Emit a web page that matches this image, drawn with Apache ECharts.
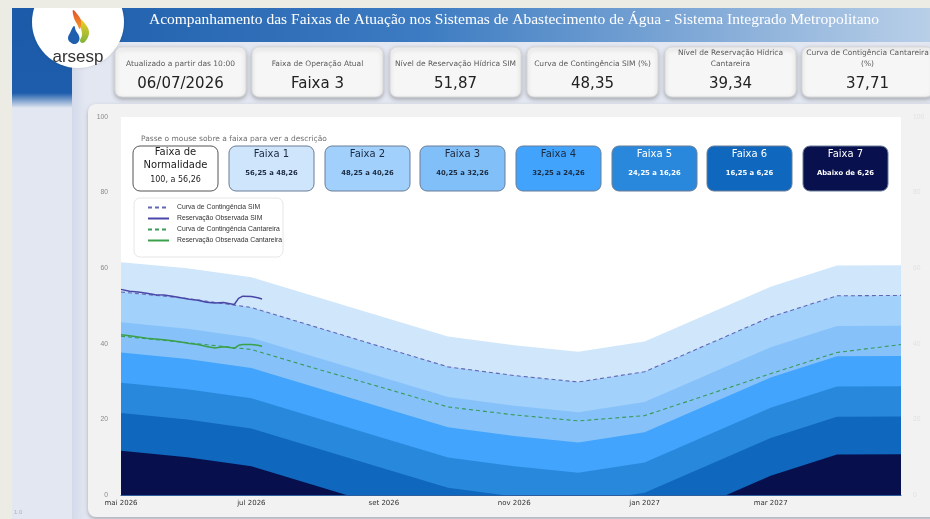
<!DOCTYPE html>
<html><head><meta charset="utf-8">
<script src="https://cdn.jsdelivr.net/npm/echarts@6/dist/echarts.min.js"></script>
<style>html,body{margin:0;padding:0;background:#ecece5;overflow:hidden}#chart{width:930px;height:519px}</style>
</head><body><div id="chart"></div>
<script>
// ---- data ----
const months = ['2026-05-01','2026-06-01','2026-07-01','2026-08-01','2026-09-01','2026-10-01','2026-11-01','2026-12-01','2027-01-01','2027-02-01','2027-03-01','2027-04-01','2027-05-01'];
const curvaSIM        = [53.7, 52.0, 49.6, 44.3, 39.0, 33.9, 31.6, 29.9, 32.6, 40.2, 47.1, 52.7, 52.8];
const curvaCantareira = [42.0, 40.3, 38.5, 33.3, 28.3, 23.3, 21.2, 19.6, 21.0, 26.8, 32.1, 37.7, 39.8];
const faixa1Topo = [61.6, 60.0, 57.6, 52.3, 47.0, 41.9, 39.6, 37.9, 40.6, 48.2, 55.1, 60.7, 60.8];
const faixa2Topo = [53.7, 52.0, 49.6, 44.3, 39.0, 33.9, 31.6, 29.9, 32.6, 40.2, 47.1, 52.7, 52.8];
const faixa3Topo = [45.7, 44.0, 41.6, 36.3, 31.0, 25.9, 23.6, 21.9, 24.6, 32.2, 39.1, 44.7, 44.8];
const faixa4Topo = [37.7, 36.0, 33.6, 28.3, 23.0, 17.9, 15.6, 13.9, 16.6, 24.2, 31.1, 36.7, 36.8];
const faixa5Topo = [29.7, 28.0, 25.6, 20.3, 15.0,  9.9,  7.6,  5.9,  8.6, 16.2, 23.1, 28.7, 28.8];
const faixa6Topo = [21.7, 20.0, 17.6, 12.3,  7.0,  1.9, -0.4, -2.1,  0.6,  8.2, 15.1, 20.7, 20.8];
const faixa7Topo = [11.7, 10.0,  7.6,  2.3, -3.0, -8.1,-10.4,-12.1, -9.4, -1.8,  5.1, 10.7, 10.8];

const obsDates = ['2026-05-01','2026-05-05','2026-05-09','2026-05-13','2026-05-17','2026-05-21','2026-05-25','2026-05-29','2026-06-02','2026-06-06','2026-06-10','2026-06-14','2026-06-18','2026-06-21','2026-06-23','2026-06-25','2026-06-27','2026-07-01','2026-07-04','2026-07-06'];
const obsSIM        = [54.4, 53.9, 53.7, 53.4, 53.0, 52.9, 52.6, 52.2, 51.8, 51.5, 51.0, 50.8, 50.9, 50.6, 50.4, 52.0, 52.6, 52.5, 52.2, 51.87];
const obsCantareira = [42.4, 42.1, 41.8, 41.5, 41.3, 41.1, 40.8, 40.5, 40.1, 39.8, 39.3, 38.9, 39.2, 39.0, 38.8, 39.6, 39.8, 39.8, 39.6, 39.34];

const xTickDates = ['2026-05-01','2026-07-01','2026-09-01','2026-11-01','2027-01-01','2027-03-01'];
const monthNames = ['jan','fev','mar','abr','mai','jun','jul','ago','set','out','nov','dez'];

const faixaTitles = ['Faixa de\nNormalidade','Faixa 1','Faixa 2','Faixa 3','Faixa 4','Faixa 5','Faixa 6','Faixa 7'];
const faixaRanges = ['100, a 56,26','56,25 a 48,26','48,25 a 40,26','40,25 a 32,26','32,25 a 24,26','24,25 a 16,26','16,25 a 6,26','Abaixo de 6,26'];

const cardLabels = ['Atualizado a partir das 10:00','Faixa de Operação Atual','Nível de Reservação Hídrica SIM','Curva de Contingência SIM (%)','Nível de Reservação Hídrica\nCantareira','Curva de Contigência Cantareira\n(%)'];
const cardValues = ['06/07/2026','Faixa 3','51,87','48,35','39,34','37,71'];

const titleText = 'Acompanhamento das Faixas de Atuação nos Sistemas de Abastecimento de Água - Sistema Integrado Metropolitano';

// ---- styles ----
const bandTops = [faixa1Topo, faixa2Topo, faixa3Topo, faixa4Topo, faixa5Topo, faixa6Topo, faixa7Topo];
const bandColors = ['#d0e6fb','#a2d1fb','#86c2f9','#42a4fc','#2888dc','#0f68be','#07104c'];
const boxFills = ['#ffffff','#cfe5fb','#a0d0fb','#80bff8','#41a3fb','#2a88dc','#0f67be','#08104e'];
const boxText = ['#1c1c1c','#1c2a40','#1c2a40','#1c2a40','#1c2a40','#ffffff','#ffffff','#ffffff'];

const chart = echarts.init(document.getElementById('chart'), null, {renderer:'canvas'});
const G = echarts.graphic;
const DAY = 24 * 3600 * 1000;

function txt(x, y, text, font, fill, align, extra) {
  const st = {text:text, font:font, fill:fill, align:align||'center', verticalAlign:'middle'};
  if (extra && extra.lh) st.lineHeight = extra.lh;
  return {type:'text', x:x, y:y, silent:true, z:(extra&&extra.z)||1, style:st};
}

const graphics = [];
// content background
graphics.push({type:'rect', z:0, silent:true, shape:{x:12,y:8,width:918,height:511}, style:{fill:'#e3e7f1'}});
graphics.push({type:'rect', z:0, silent:true, shape:{x:72,y:40,width:14,height:479},
  style:{fill:new G.LinearGradient(0,0,1,0,[{offset:0,color:'#d3daea'},{offset:1,color:'#e3e7f1'}])}});
// left blue block
graphics.push({type:'rect', z:0, silent:true, shape:{x:12,y:8,width:60,height:100},
  style:{fill:new G.LinearGradient(0,0,0,1,[{offset:0,color:'#1b5aa8'},{offset:0.85,color:'#1d5dab'},{offset:1,color:'#e3e7f1'}])}});
// header band
graphics.push({type:'rect', z:0, silent:true, shape:{x:12,y:8,width:918,height:34},
  style:{fill:new G.LinearGradient(0,0,1,0,[{offset:0,color:'#1b5aa8'},{offset:0.45,color:'#3d7cc2'},{offset:1,color:'#b9cfe8'}])}});
graphics.push(txt(514, 20, titleText, '15.5px "Liberation Serif"', '#ffffff', 'center'));
// logo circle
graphics.push({type:'circle', z:0, silent:true, shape:{cx:78,cy:22,r:46}, style:{fill:'#ffffff', shadowBlur:3, shadowColor:'rgba(0,0,0,0.15)'}});
graphics.push({type:'rect', z:0, silent:true, shape:{x:0,y:0,width:930,height:8}, style:{fill:'#ecece5'}});
graphics.push({type:'rect', z:0, silent:true, shape:{x:0,y:0,width:12,height:519}, style:{fill:'#ecece5'}});
// flame (approximate logo)
graphics.push({type:'polygon', z:1, silent:true, shape:{smooth:0.4, points:[[74,26],[70,33],[68,38],[70,42],[75,44],[79,41],[79,36],[76,31]]}, style:{fill:'#1f5fae'}});
graphics.push({type:'polygon', z:1, silent:true, shape:{smooth:0.4, points:[[80,19],[86,25],[89,32],[87,39],[83,43],[80,41],[82,35],[81,28]]},
  style:{fill:new G.LinearGradient(0,0,0,1,[{offset:0,color:'#f2cf23'},{offset:1,color:'#7fb33a'}])}});
graphics.push({type:'polygon', z:1, silent:true, shape:{smooth:0.4, points:[[73,10],[78,15],[81,21],[80,29],[77,24],[74,18]]},
  style:{fill:new G.LinearGradient(0,0,0,1,[{offset:0,color:'#e4502c'},{offset:1,color:'#f39a25'}])}});
graphics.push(txt(78, 57, 'arsesp', '17px "Liberation Sans"', '#333333', 'center'));
graphics.push(txt(14, 512, '1.0', '6px "Liberation Sans"', '#b0b0b0', 'left'));

// cards
const cardX = [115, 252, 390, 527, 665, 802];
cardX.forEach((x, i) => {
  graphics.push({type:'rect', z:1, silent:true, shape:{x:x,y:47,width:131,height:50,r:7},
    style:{fill:'#f6f6f6', stroke:'#d9d9d9', lineWidth:1, shadowBlur:4, shadowOffsetY:2, shadowColor:'rgba(0,0,0,0.25)'}});
  const twoLines = cardLabels[i].indexOf('\n') >= 0;
  graphics.push(txt(x + 65.5, twoLines ? 58.5 : 64, cardLabels[i], '7.5px "DejaVu Sans"', '#5a5a5a', 'center', {lh:11, z:2}));
  graphics.push(txt(x + 65.5, 84, cardValues[i], '15px "DejaVu Sans"', '#222222', 'center', {z:2}));
});

// chart panel
graphics.push({type:'rect', z:1, silent:true, shape:{x:88,y:104,width:870,height:413,r:8},
  style:{fill:'#f2f2f2', shadowBlur:4, shadowOffsetY:2, shadowColor:'rgba(0,0,0,0.25)'}});
graphics.push({type:'rect', z:1, silent:true, shape:{x:121,y:117,width:780,height:378}, style:{fill:'#ffffff'}});

// hint + faixa boxes
graphics.push(txt(141, 139, 'Passe o mouse sobre a faixa para ver a descrição', '7.5px "DejaVu Sans"', '#707070', 'left', {z:3}));
const boxX = [133, 229, 325, 420, 516, 612, 707, 803];
boxX.forEach((x, i) => {
  graphics.push({type:'rect', z:3, silent:true, shape:{x:x,y:146,width:85,height:45,r:7},
    style:{fill:boxFills[i], stroke: i === 0 ? '#555555' : '#6a7d97', lineWidth:1}});
  if (i === 0) {
    graphics.push(txt(x + 42.5, 159, faixaTitles[i], '10px "DejaVu Sans"', boxText[i], 'center', {lh:12.5, z:4}));
    graphics.push(txt(x + 42.5, 180, faixaRanges[i], '8px "DejaVu Sans"', boxText[i], 'center', {z:4}));
  } else {
    graphics.push(txt(x + 42.5, 154, faixaTitles[i], '10px "DejaVu Sans"', boxText[i], 'center', {z:4}));
    graphics.push(txt(x + 42.5, 173, faixaRanges[i], 'bold 6.8px "DejaVu Sans"', boxText[i], 'center', {z:4}));
  }
});
// legend box
graphics.push({type:'rect', z:3, silent:true, shape:{x:134,y:198,width:149,height:59,r:6},
  style:{fill:'#ffffff', stroke:'#e6e6e6', lineWidth:1}});

// ---- series ----
const series = [];
bandTops.forEach((arr, i) => {
  series.push({
    name: 'Faixa ' + (i + 1), type: 'line', silent: true, z: 2 + i,
    symbol: 'none', lineStyle: {width: 0}, itemStyle: {color: bandColors[i]},
    areaStyle: {color: bandColors[i], opacity: 1, origin: 0},
    data: months.map((m, j) => [m, arr[j]])
  });
});
const lineDefs = [
  {name:'Curva de Contingência SIM', dates:months, vals:curvaSIM, color:'#6266b4', width:1.1, type:[4,3]},
  {name:'Reservação Observada SIM', dates:obsDates, vals:obsSIM, color:'#4846a6', width:1.5, type:'solid'},
  {name:'Curva de Contingência Cantareira', dates:months, vals:curvaCantareira, color:'#3a9a5a', width:1.1, type:[4,3]},
  {name:'Reservação Observada Cantareira', dates:obsDates, vals:obsCantareira, color:'#3aa04a', width:1.5, type:'solid'}
];
lineDefs.forEach(d => {
  series.push({
    name: d.name, type: 'line', z: 12, symbol: 'none', silent: true,
    itemStyle: {color: d.color},
    lineStyle: {color: d.color, width: d.width, type: d.type},
    data: d.dates.map((m, j) => [m, d.vals[j]])
  });
});

function pad(n) { return n < 10 ? '0' + n : '' + n; }

const option = {
  animation: false,
  backgroundColor: 'transparent',
  graphic: {elements: graphics},
  grid: {left: 121, right: 29, top: 117, bottom: 24},
  legend: {
    show: true, orient: 'vertical', left: 147, top: 204, padding: 0, z: 20,
    itemWidth: 21, itemHeight: 8, itemGap: 4, selectedMode: false,
    data: lineDefs.map(d => d.name),
    itemStyle: {opacity: 0},
    textStyle: {fontSize: 6.8, fontFamily: '"Liberation Sans"', color: '#333', padding: [0, 0, 0, 3]}
  },
  xAxis: {
    type: 'time', min: months[0], max: months[months.length - 1], z: 20,
    minInterval: 28 * DAY, maxInterval: 31 * DAY,
    axisLine: {show: true, lineStyle: {color: '#2c5d9c', width: 1}},
    axisTick: {show: false}, splitLine: {show: false},
    axisLabel: {
      margin: 5, fontSize: 7, fontFamily: '"DejaVu Sans"', color: '#333',
      formatter: function (v) {
        const d = new Date(v);
        const key = d.getFullYear() + '-' + pad(d.getMonth() + 1) + '-' + pad(d.getDate());
        return xTickDates.indexOf(key) >= 0 ? monthNames[d.getMonth()] + ' ' + d.getFullYear() : '';
      }
    }
  },
  yAxis: [
    {type: 'value', min: 0, max: 100, interval: 20, position: 'left', z: 20,
     axisLine: {show: false}, axisTick: {show: false}, splitLine: {show: false},
     axisLabel: {margin: 13, fontSize: 6.8, fontFamily: '"Liberation Sans"', color: '#8a8a8a'}},
    {type: 'value', min: 0, max: 100, interval: 20, position: 'right', z: 20,
     axisLine: {show: false}, axisTick: {show: false}, splitLine: {show: false},
     axisLabel: {margin: 12, fontSize: 6.8, fontFamily: '"Liberation Sans"', color: '#e2e2e2'}}
  ],
  series: series
};
chart.setOption(option);
</script>
</body></html>
